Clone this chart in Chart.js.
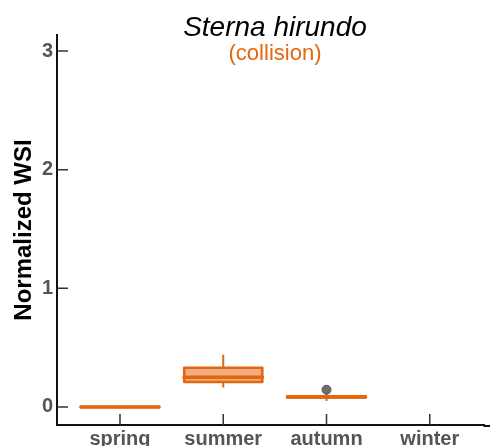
<!DOCTYPE html>
<html>
<head>
<meta charset="utf-8">
<script src="https://cdn.jsdelivr.net/npm/chart.js@4.4.1/dist/chart.umd.min.js"></script>
<style>
  html, body { margin: 0; padding: 0; background: #ffffff; }
  #wrap { width: 490px; height: 446px; }
</style>
</head>
<body>
<div id="wrap"><canvas id="c" width="490" height="446"></canvas></div>
<script>
// Seasonal wind-sensitivity index for the common tern (collision)
const seasons    = ['spring', 'summer', 'autumn', 'winter'];
const whiskerLo  = [0, 0.165, 0.05, null];
const q1         = [0, 0.21, 0.08, null];
const median     = [0, 0.25, 0.085, null];
const q3         = [0, 0.33, 0.09, null];
const whiskerHi  = [0, 0.44, 0.12, null];
const outliers   = [{ season: 2, value: 0.145 }];
const yTicks     = [0, 1, 2, 3];

const FONT = "'Liberation Sans', Arial, sans-serif";
const ORANGE = '#e2670f';
const ORANGE_FILL = '#f1ac80';
const BOX_HALF = 0.378;

// Box-and-whisker drawing through the chart scales
const boxPlugin = {
  id: 'boxes',
  beforeDatasetsDraw(chart) {
    const { ctx, scales: { x, y } } = chart;
    ctx.save();
    seasons.forEach((s, i) => {
      if (q1[i] === null) return;
      const cx = x.getPixelForValue(i);
      const xl = x.getPixelForValue(i - BOX_HALF);
      const xr = x.getPixelForValue(i + BOX_HALF);
      const yq1 = y.getPixelForValue(q1[i]);
      const yq3 = y.getPixelForValue(q3[i]);
      const yMed = y.getPixelForValue(median[i]);
      const yLo = y.getPixelForValue(whiskerLo[i]);
      const yHi = y.getPixelForValue(whiskerHi[i]);
      // whiskers
      ctx.strokeStyle = ORANGE;
      ctx.lineWidth = 2;
      ctx.lineCap = 'butt';
      ctx.beginPath();
      ctx.moveTo(cx, yLo); ctx.lineTo(cx, yq1);
      ctx.moveTo(cx, yq3); ctx.lineTo(cx, yHi);
      ctx.stroke();
      // box
      ctx.fillStyle = ORANGE_FILL;
      ctx.fillRect(xl, yq3, xr - xl, yq1 - yq3);
      ctx.lineWidth = 2.6;
      ctx.lineJoin = 'round';
      ctx.strokeRect(xl, yq3, xr - xl, yq1 - yq3);
      // median
      ctx.lineWidth = 3.6;
      ctx.lineCap = 'round';
      ctx.beginPath();
      ctx.moveTo(xl, yMed); ctx.lineTo(xr, yMed);
      ctx.stroke();
    });
    ctx.restore();
  },
  afterDraw(chart) {
    const { ctx, scales: { x, y }, chartArea } = chart;
    ctx.save();
    // carry the bottom axis line to the right edge of the canvas
    ctx.strokeStyle = '#111111';
    ctx.lineWidth = 2;
    ctx.beginPath();
    ctx.moveTo(chartArea.right - 1, chartArea.bottom + 1);
    ctx.lineTo(chart.width, chartArea.bottom + 1);
    ctx.stroke();
    // inward tick marks
    ctx.strokeStyle = '#333333';
    ctx.lineWidth = 1.5;
    ctx.beginPath();
    yTicks.forEach(v => {
      const py = y.getPixelForValue(v);
      ctx.moveTo(chartArea.left, py); ctx.lineTo(chartArea.left + 11, py);
    });
    seasons.forEach((s, i) => {
      const px = x.getPixelForValue(i);
      ctx.moveTo(px, chartArea.bottom); ctx.lineTo(px, chartArea.bottom - 11);
    });
    ctx.stroke();
    // title and subtitle
    const cx = 274;
    ctx.textAlign = 'center';
    ctx.textBaseline = 'alphabetic';
    ctx.fillStyle = '#000000';
    ctx.font = `italic 28px ${FONT}`;
    ctx.fillText('Sterna hirundo', cx + 1, 36);
    ctx.fillStyle = ORANGE;
    ctx.font = `22px ${FONT}`;
    ctx.fillText('(collision)', cx + 1, 60);
    ctx.restore();
  }
};

new Chart(document.getElementById('c'), {
  type: 'scatter',
  data: {
    datasets: [{
      label: 'outliers',
      data: outliers.map(o => ({ x: o.season, y: o.value })),
      backgroundColor: '#6e6e6e',
      borderColor: '#555555',
      borderWidth: 1,
      pointRadius: 4.5
    }]
  },
  options: {
    responsive: false,
    animation: false,
    layout: { padding: { top: 35, left: 0, right: 0, bottom: 0 } },
    plugins: {
      legend: { display: false },
      tooltip: { enabled: false }
    },
    scales: {
      x: {
        type: 'linear',
        min: -0.61,
        max: 3.53,
        afterFit(scale) { scale.height = 21; },
        afterBuildTicks(scale) { scale.ticks = seasons.map((s, i) => ({ value: i })); },
        grid: { drawOnChartArea: false, drawTicks: false },
        border: { display: true, color: '#111111', width: 2 },
        ticks: {
          padding: 2,
          color: '#555555',
          font: { family: FONT, size: 20, weight: 'bold' },
          callback: v => seasons[v]
        }
      },
      y: {
        type: 'linear',
        min: -0.152,
        max: 3.135,
        afterFit(scale) { scale.width = 57; },
        afterBuildTicks(scale) { scale.ticks = yTicks.map(v => ({ value: v })); },
        grid: { drawOnChartArea: false, drawTicks: false },
        border: { display: true, color: '#111111', width: 2 },
        ticks: {
          padding: 4,
          color: '#555555',
          font: { family: FONT, size: 20, weight: 'bold' }
        },
        title: {
          display: true,
          text: 'Normalized WSI',
          color: '#000000',
          font: { family: FONT, size: 24, weight: 'bold' },
          padding: { top: 10, bottom: 0 }
        }
      }
    }
  },
  plugins: [boxPlugin]
});
</script>
</body>
</html>
